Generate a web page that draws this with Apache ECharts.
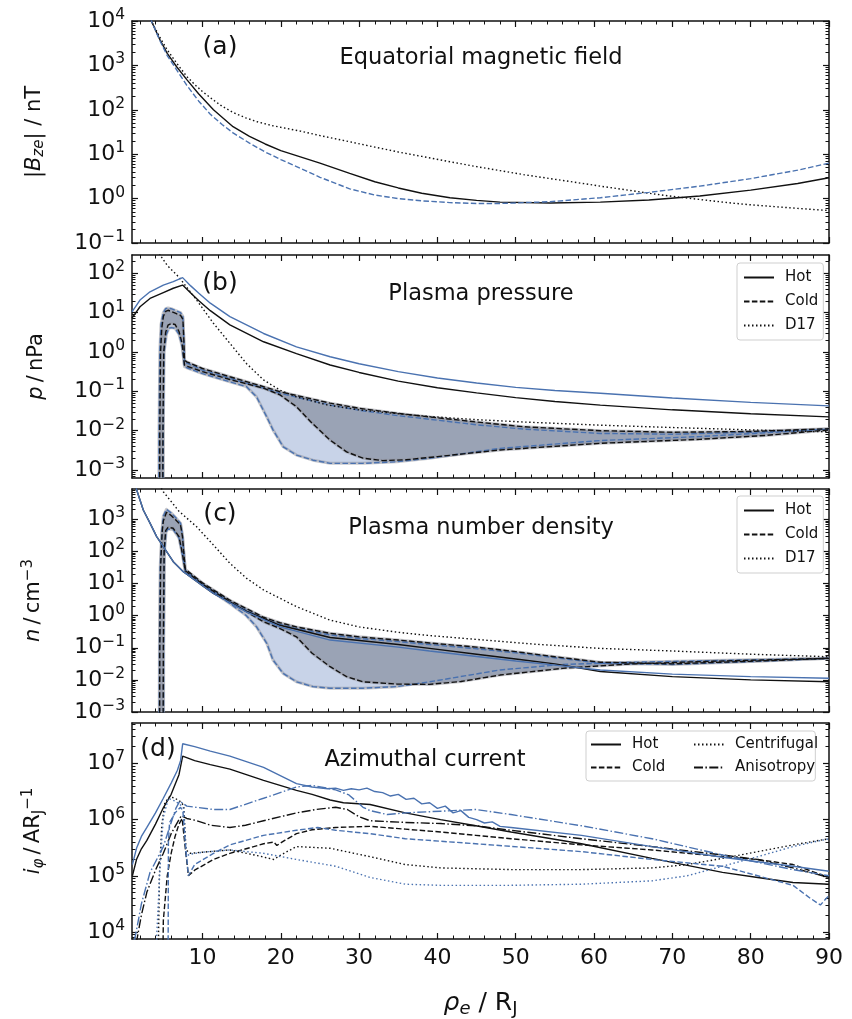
<!DOCTYPE html>
<html>
<head>
<meta charset="utf-8">
<script src="https://cdn.jsdelivr.net/npm/echarts@6/dist/echarts.min.js"></script>
<style>
  html, body { margin: 0; padding: 0; background: #ffffff; }
  #chart { width: 852px; height: 1019px; }
</style>
</head>
<body>
<div id="chart"></div>
<script>
// Radial profiles against rho_e (R_J). Every profile is stored as
// [rho_e, log10(value)] pairs and converted to linear values for the log axes.

// ---------- (a) equatorial magnetic field |B_ze| (nT) ----------
const bzHot = [[1,5.6],[2,4.75],[3,4.27],[3.55,3.97],[4.5,3.6],[5.5,3.27],[6.7,2.97],[8,2.68],[9.5,2.36],[11.4,2.0],[13.9,1.62],[16,1.4],[18,1.23],[20,1.08],[22.5,0.94],[25,0.8],[28.8,0.57],[32,0.38],[35,0.24],[38,0.12],[41.6,0.02],[45,-0.04],[48,-0.08],[54.4,-0.1],[60.8,-0.08],[67,-0.03],[73.5,0.06],[80,0.19],[86,0.34],[90,0.47]];
const bzCold = [[1,5.6],[2,4.75],[3,4.27],[3.55,3.97],[4.5,3.58],[5.5,3.22],[6.7,2.9],[8,2.55],[9.5,2.2],[11,1.9],[12.5,1.67],[13.9,1.48],[16,1.25],[18,1.05],[20,0.88],[22.5,0.68],[25,0.48],[28.8,0.22],[32,0.08],[35,0.0],[38,-0.05],[41.6,-0.09],[45,-0.11],[48,-0.11],[54.4,-0.07],[60.8,0.02],[67,0.14],[73.5,0.28],[80,0.45],[86,0.64],[90,0.8]];
const bzD17 = [[1,5.6],[2,4.75],[3,4.27],[3.55,3.97],[4.5,3.65],[5.5,3.35],[6.7,3.05],[8,2.75],[9,2.57],[10,2.41],[11.4,2.22],[12.5,2.08],[13.9,1.94],[15.5,1.82],[17,1.73],[19,1.64],[22.5,1.52],[25,1.42],[28.8,1.28],[32,1.16],[35,1.05],[38,0.95],[41.6,0.83],[45,0.72],[48,0.63],[51,0.54],[54.4,0.45],[57.5,0.37],[60.8,0.28],[64,0.2],[67,0.12],[70,0.05],[73.5,-0.02],[77,-0.09],[80,-0.14],[83,-0.18],[86,-0.22],[90,-0.27]];

// ---------- (b) plasma pressure p (nPa) ----------
const pHotBlack = [[1,0.86],[2.02,1.15],[3.3,1.36],[5,1.51],[6.27,1.62],[7.46,1.70],[8.5,1.50],[9.5,1.31],[11,1.05],[13.5,0.69],[17.8,0.26],[22,-0.04],[26.3,-0.33],[30,-0.52],[35,-0.74],[40,-0.91],[45,-1.04],[50,-1.16],[55,-1.26],[60.8,-1.35],[70,-1.47],[80,-1.57],[90,-1.65]];
const pHotBlue = [[1,1.02],[2.02,1.32],[3.3,1.53],[5,1.70],[6.27,1.79],[7.46,1.89],[8.5,1.68],[9.5,1.50],[11,1.24],[13.5,0.90],[17.8,0.47],[22,0.13],[26.3,-0.12],[30,-0.30],[35,-0.50],[40,-0.66],[45,-0.79],[50,-0.90],[55,-0.98],[60.8,-1.05],[70,-1.17],[80,-1.28],[90,-1.37]];
const pD17 = [[4.2,2.7],[4.6,2.46],[5.5,2.2],[7,1.9],[9.25,1.32],[11.4,0.73],[13.5,0.22],[15.6,-0.29],[17.8,-0.71],[19.9,-0.97],[22,-1.14],[26,-1.35],[30,-1.47],[35,-1.57],[39,-1.64],[45,-1.72],[51,-1.78],[60.8,-1.86],[70,-1.92],[80,-1.98],[90,-2.03]];
const pColdUpperBlack = [[4.5,-6],[4.55,-2],[4.65,0],[4.8,0.6],[5.0,0.9],[5.3,1.03],[5.6,1.06],[6.0,1.03],[6.6,0.98],[7.2,0.93],[7.5,0.83],[7.62,0.3],[7.7,-0.21],[8,-0.25],[10,-0.42],[13.5,-0.63],[17.8,-0.88],[19.9,-1.01],[26.3,-1.30],[30,-1.43],[35,-1.56],[39,-1.65],[45,-1.78],[51,-1.9],[60.8,-2.0],[70,-2.04],[80,-2.02],[90,-1.95]];
const pColdUpperBlue = [[4.4,-6],[4.45,-2],[4.55,0],[4.7,0.7],[5.0,1.0],[5.3,1.1],[5.6,1.12],[6.0,1.1],[6.6,1.05],[7.2,1.0],[7.5,0.9],[7.62,0.3],[7.7,-0.25],[8,-0.28],[10,-0.46],[13.5,-0.67],[17.8,-0.92],[19.9,-1.05],[26.3,-1.35],[30,-1.48],[35,-1.62],[39,-1.71],[45,-1.85],[51,-1.96],[60.8,-2.07],[70,-2.09],[80,-2.04],[90,-1.96]];
const pColdLowerBlack = [[4.9,-6],[4.95,-2],[5.05,0],[5.3,0.5],[5.6,0.68],[6.0,0.72],[6.5,0.7],[7.0,0.52],[7.4,0.22],[7.7,-0.33],[8,-0.36],[10,-0.5],[13.5,-0.70],[17.8,-0.92],[19.9,-1.09],[22,-1.39],[24,-1.81],[26.3,-2.24],[28.4,-2.54],[30.5,-2.70],[33,-2.76],[36,-2.74],[40,-2.66],[48,-2.49],[60.8,-2.32],[73.5,-2.22],[82,-2.12],[90,-1.98]];
const pColdLowerBlue = [[4.95,-6],[5.0,-2],[5.1,0],[5.4,0.45],[5.7,0.6],[6.0,0.62],[6.5,0.6],[7.0,0.45],[7.4,0.15],[7.7,-0.37],[8,-0.40],[10,-0.55],[13.5,-0.76],[15.6,-0.88],[16.9,-1.14],[18.2,-1.65],[19.0,-1.98],[20.3,-2.41],[22,-2.62],[24.1,-2.75],[26.3,-2.83],[30.5,-2.83],[34.8,-2.79],[39,-2.70],[48,-2.45],[60.8,-2.25],[73.5,-2.15],[90,-1.96]];

// ---------- (c) plasma number density n (cm^-3) ----------
const nHotBlack = [[1,4.6],[1.6,3.91],[2.44,3.29],[3.3,2.88],[4.15,2.46],[5,2.15],[6.27,1.68],[7.55,1.37],[11.4,0.69],[15.6,0.14],[19.9,-0.30],[26.3,-0.68],[35,-0.90],[39,-1.02],[45,-1.2],[50,-1.35],[55,-1.5],[60.8,-1.74],[70,-1.9],[80,-2.0],[90,-2.06]];
const nHotBlue = [[1,4.6],[1.6,3.91],[2.44,3.29],[3.3,2.88],[4.15,2.46],[5,2.15],[6.27,1.68],[7.55,1.37],[11.4,0.69],[15.6,0.12],[19.9,-0.35],[26.3,-0.76],[35,-0.98],[39,-1.1],[45,-1.27],[50,-1.41],[55,-1.54],[60.8,-1.69],[70,-1.82],[80,-1.9],[90,-1.95]];
const nD17 = [[4,4.3],[5,3.86],[7,3.25],[9.25,2.77],[11.4,2.2],[13.5,1.63],[15.6,1.17],[17.8,0.80],[22,0.28],[26.3,-0.14],[30,-0.35],[35,-0.52],[39,-0.62],[45,-0.74],[52,-0.88],[60.8,-1.02],[70,-1.1],[80,-1.2],[90,-1.28]];
const nColdUpperBlack = [[4.5,-6],[4.55,-1],[4.65,1.5],[4.85,2.6],[5.0,2.95],[5.4,3.22],[6.0,3.12],[6.6,2.98],[7.2,2.82],[7.45,2.45],[7.6,2.0],[7.8,1.45],[8,1.40],[10,1.02],[13.5,0.48],[17.8,-0.05],[19.9,-0.22],[22,-0.35],[26.3,-0.55],[30,-0.66],[35,-0.76],[39,-0.85],[45,-0.98],[50,-1.12],[55,-1.28],[60.8,-1.45],[70,-1.50],[80,-1.42],[90,-1.33]];
const nColdUpperBlue = [[4.45,-6],[4.5,-1],[4.6,1.5],[4.8,2.6],[5.0,3.1],[5.4,3.31],[6.0,3.2],[6.6,3.05],[7.2,2.88],[7.45,2.5],[7.6,2.0],[7.8,1.42],[8,1.37],[10,0.98],[13.5,0.44],[17.8,-0.1],[19.9,-0.27],[22,-0.4],[26.3,-0.6],[30,-0.71],[35,-0.81],[39,-0.9],[45,-1.03],[50,-1.16],[55,-1.31],[60.8,-1.48],[70,-1.52],[80,-1.43],[90,-1.33]];
const nColdLowerBlack = [[4.95,-6],[5.0,-1],[5.1,2.0],[5.3,2.65],[5.6,2.75],[6.27,2.72],[7.0,2.46],[7.4,1.98],[7.8,1.40],[8,1.36],[10,0.98],[13.5,0.43],[17.8,-0.19],[19.9,-0.40],[22,-0.66],[24,-1.17],[26.3,-1.59],[28.4,-1.90],[30.5,-2.06],[34.8,-2.13],[39,-2.14],[43,-2.05],[48,-1.85],[56,-1.64],[65,-1.50],[75,-1.42],[90,-1.33]];
const nColdLowerBlue = [[5.0,-6],[5.05,-1],[5.15,2.0],[5.35,2.6],[5.6,2.7],[6.27,2.68],[7.0,2.42],[7.4,1.95],[7.8,1.38],[8,1.33],[10,0.95],[13.5,0.38],[15.6,0.0],[16.9,-0.35],[18.2,-0.86],[19.0,-1.38],[20.3,-1.80],[22,-2.06],[24.1,-2.21],[26.3,-2.26],[30.5,-2.26],[34.8,-2.21],[39,-2.06],[48,-1.69],[56,-1.52],[65,-1.45],[75,-1.40],[90,-1.33]];

// ---------- (d) azimuthal current i_phi (A R_J^-1) ----------
const iHotBlack = [[1.05,5.0],[1.6,5.3],[2.2,5.48],[2.9,5.63],[4,5.92],[5,6.21],[6,6.45],[7,6.8],[7.47,7.13],[9,7.05],[11,6.98],[13.5,6.90],[17.8,6.70],[22,6.52],[24,6.45],[26.3,6.35],[28,6.30],[31.4,6.27],[35.9,6.12],[40.4,6.0],[44.9,5.89],[49.4,5.78],[58.4,5.57],[67.4,5.31],[76.4,5.06],[80.9,4.97],[85.4,4.88],[90,4.85]];
const iHotBlue = [[1.05,5.2],[1.6,5.5],[2.2,5.7],[2.9,5.86],[4,6.12],[5,6.38],[6,6.65],[6.8,6.88],[7.2,7.05],[7.47,7.35],[9,7.30],[11,7.22],[13.5,7.13],[17.8,6.93],[22,6.64],[24,6.58],[26,6.55],[27,6.56],[28,6.52],[29,6.55],[30,6.53],[31,6.56],[32,6.50],[33,6.48],[34,6.42],[35,6.45],[36,6.36],[37,6.38],[38,6.28],[39,6.30],[40,6.20],[41,6.24],[42,6.12],[43,6.16],[44,6.04],[45,6.0],[46,5.94],[47,5.96],[48,5.88],[49.4,5.86],[58.4,5.72],[67.4,5.52],[76.4,5.33],[85.4,5.17],[90,5.08]];
const iColdBlack = [[4.9,3.0],[5.0,4.2],[5.5,5.0],[6,5.4],[6.5,5.7],[7,5.92],[7.4,6.02],[7.8,5.5],[8.2,5.0],[9,5.1],[11.4,5.29],[13.5,5.40],[17.8,5.57],[19.1,5.60],[19.5,5.54],[20.5,5.63],[22,5.75],[24,5.82],[27,5.86],[31.4,5.88],[35.9,5.83],[40.4,5.78],[44.9,5.72],[49.4,5.66],[58.4,5.55],[67.4,5.46],[76.4,5.34],[80.9,5.29],[85.4,5.20],[90,4.97]];
const iColdBlue = [[5.6,3.0],[5.65,5.6],[5.8,5.95],[6.5,6.12],[7.2,6.22],[7.5,6.15],[7.8,5.6],[8.2,5.0],[9,5.2],[11.4,5.40],[13.5,5.55],[17.8,5.72],[22,5.81],[24.7,5.86],[27,5.81],[31.4,5.75],[35.9,5.66],[44.9,5.57],[58.4,5.43],[67.4,5.29],[76.4,5.17],[80.9,5.0],[85.4,4.83],[87.6,4.60],[88.9,4.48],[90,4.65]];
const iCentBlack = [[4.3,3.0],[4.5,5.0],[4.8,5.9],[5.2,6.3],[5.8,6.41],[6.5,6.38],[7.2,6.32],[7.6,6.25],[7.9,5.46],[8.4,5.40],[10,5.42],[13.5,5.46],[17,5.36],[19.1,5.29],[20,5.37],[22,5.52],[26.3,5.49],[31.4,5.34],[35.9,5.20],[40.4,5.14],[49.4,5.11],[58.4,5.11],[67.4,5.14],[71.9,5.20],[76.4,5.31],[80.9,5.43],[85.4,5.55],[90,5.66]];
const iCentBlue = [[4.1,3.0],[4.15,3.9],[4.58,5.17],[5,6.04],[5.64,6.38],[6.5,6.33],[7.13,6.27],[7.6,6.2],[7.9,5.34],[8.3,5.38],[10,5.42],[13.5,5.46],[17.8,5.40],[22,5.29],[27,5.17],[31.4,4.97],[35.9,4.85],[40.4,4.83],[49.4,4.83],[58.4,4.85],[67.4,4.91],[71.9,5.0],[76.4,5.17],[80.9,5.34],[85.4,5.52],[90,5.66]];
const iAnisoBlack = [[1.5,3.8],[1.6,3.84],[2.2,4.3],[2.9,4.71],[4,5.1],[5,5.4],[6,5.75],[7,6.0],[7.3,6.07],[8,6.02],[9.3,5.98],[11,5.9],[13.5,5.86],[15.5,5.9],[17.8,5.98],[22,6.12],[24.5,6.18],[27,6.22],[28.5,6.18],[30,6.05],[31.4,5.98],[35.9,5.95],[40.4,5.93],[44.9,5.89],[49.4,5.81],[58.4,5.66],[67.4,5.52],[76.4,5.37],[80.9,5.29],[85.4,5.14],[90,4.97]];
const iAnisoBlue = [[1.3,3.85],[1.56,4.02],[2.2,4.5],[3.3,5.06],[5,5.52],[6,5.95],[6.6,6.2],[7.1,6.33],[8,6.24],[11.4,6.18],[13.5,6.18],[17.8,6.38],[22,6.58],[24,6.61],[26.3,6.55],[27,6.53],[28.7,6.44],[30.5,6.22],[31.4,6.16],[33.6,6.09],[35.9,6.12],[40.4,6.15],[44.9,6.18],[49.4,6.09],[58.4,5.89],[67.4,5.66],[76.4,5.37],[85.4,5.11],[90,5.0]];

// ---------- axis ticks ----------
const X_MAJOR = [10, 20, 30, 40, 50, 60, 70, 80, 90];
const X_MINOR = [];
for (let v = 2; v < 90; v += 2) if (v % 10 !== 0) X_MINOR.push(v);

function powersOfTen(lo, hi) { const a = []; for (let e = lo; e <= hi; e++) a.push(Math.pow(10, e)); return a; }
function logMinors(lo, hi) { const a = []; for (let e = lo; e <= hi; e++) for (let k = 2; k <= 9; k++) a.push(+(k * Math.pow(10, e)).toPrecision(3)); return a; }

// ---------- styling ----------
const FONT = 'DejaVu Sans';
const INK = '#111111';
const BLUE = '#4a72b0';
const DASH = [5.5, 2.4];
const DOT = [1.5, 2.5];
const DASHDOT = [9, 2.4, 1.5, 2.4];
const FILL_LIGHT = '#c8d3e8';
const FILL_DARK = '#9aa3b5';
const TICK_FS = 22;
const THIN = '\u2009';

const panels = [
  { top: 21,  height: 222, yMin: 0.1,     yMax: 1e4,    eLo: -1, eHi: 4,
    name: '|{i|B}{sub|ze}| / nT', title: 'Equatorial magnetic field', tag: '(a)', tagX: 220, tagY: 47, titleX: 481, titleY: 58 },
  { top: 255, height: 223, yMin: 6.27e-4, yMax: 291.7,  eLo: -3, eHi: 2,
    name: '{i|p}' + THIN + '/' + THIN + 'nPa', title: 'Plasma pressure', tag: '(b)', tagX: 220, tagY: 283, titleX: 481, titleY: 294 },
  { top: 489, height: 223, yMin: 1e-3,    yMax: 8790,   eLo: -3, eHi: 3,
    name: '{i|n}' + THIN + '/' + THIN + 'cm{sup|\u22123}', title: 'Plasma number density', tag: '(c)', tagX: 220, tagY: 514, titleX: 481, titleY: 528 },
  { top: 723, height: 222, yMin: 7490,    yMax: 5.25e7, eLo: 4,  eHi: 7,
    name: '{i|i}{sub|\u03c6}' + THIN + '/' + THIN + 'AR{subr|J}{sup|\u22121}', title: 'Azimuthal current', tag: '(d)', tagX: 158, tagY: 749, titleX: 425, titleY: 760 }
];

const nameRich = {
  i:    { fontFamily: FONT, fontSize: 21, fontStyle: 'italic', color: INK },
  sub:  { fontFamily: FONT, fontSize: 15, fontStyle: 'italic', color: INK, padding: [10, 0, 0, 0] },
  subr: { fontFamily: FONT, fontSize: 15, color: INK, padding: [10, 0, 0, 0] },
  sup:  { fontFamily: FONT, fontSize: 15, color: INK, padding: [0, 0, 11, 0] }
};
const tickRich = {
  b:   { fontFamily: FONT, fontSize: TICK_FS, color: INK },
  sup: { fontFamily: FONT, fontSize: 15.5, color: INK, padding: [0, 0, 12, 0] }
};
function powLabel(v) {
  const e = Math.round(Math.log10(v));
  return '{b|10}{sup|' + (e < 0 ? '\u2212' + (-e) : String(e)) + '}';
}

const grids = [], xAxes = [], yAxes = [];
const frameLine = { show: true, onZero: false, lineStyle: { color: INK, width: 1.5 } };
const noLine = { show: false, onZero: false };
const majorTick = (vals) => ({ show: true, inside: true, length: 6, customValues: vals, lineStyle: { color: INK, width: 1.2 } });
const minorTick = (vals) => ({ show: true, inside: true, length: 3.5, customValues: vals, lineStyle: { color: INK, width: 1 } });

panels.forEach((p, i) => {
  const last = i === panels.length - 1;
  grids.push({ left: 132, right: 23, top: p.top, height: p.height });
  const xb = { type: 'value', gridIndex: i, min: 1, max: 90, splitLine: { show: false } };
  xAxes.push(Object.assign({}, xb, {
    position: 'bottom', axisLine: frameLine, axisTick: majorTick(X_MAJOR),
    axisLabel: { show: last, customValues: X_MAJOR, fontFamily: FONT, fontSize: TICK_FS, color: INK, margin: 8 },
    name: last ? '{i|\u03c1}{sub|e} / R{subr|J}' : '', nameLocation: 'middle', nameGap: 50,
    nameTextStyle: { fontFamily: FONT, fontSize: 25, color: INK, rich: {
      i: { fontFamily: FONT, fontSize: 25, fontStyle: 'italic', color: INK },
      sub: { fontFamily: FONT, fontSize: 18, fontStyle: 'italic', color: INK, padding: [11, 0, 0, 0] },
      subr: { fontFamily: FONT, fontSize: 18, color: INK, padding: [11, 0, 0, 0] } } }
  }));
  xAxes.push(Object.assign({}, xb, { position: 'top', axisLine: frameLine, axisTick: majorTick(X_MAJOR), axisLabel: { show: false } }));
  xAxes.push(Object.assign({}, xb, { position: 'top', axisLine: noLine, axisTick: minorTick(X_MINOR), axisLabel: { show: false } }));
  xAxes.push(Object.assign({}, xb, { position: 'bottom', axisLine: noLine, axisTick: minorTick(X_MINOR), axisLabel: { show: false } }));

  const major = powersOfTen(p.eLo, p.eHi);
  const minor = logMinors(p.eLo - 1, p.eHi);
  const yb = { type: 'log', logBase: 10, gridIndex: i, min: p.yMin, max: p.yMax, splitLine: { show: false } };
  yAxes.push(Object.assign({}, yb, {
    position: 'left', axisLine: frameLine, axisTick: majorTick(major),
    axisLabel: { customValues: major, formatter: powLabel, rich: tickRich, margin: 7 },
    name: p.name, nameLocation: 'middle', nameRotate: 90, nameGap: 85,
    nameTextStyle: { fontFamily: FONT, fontSize: 21, color: INK, rich: nameRich }
  }));
  yAxes.push(Object.assign({}, yb, { position: 'right', axisLine: frameLine, axisTick: majorTick(major), axisLabel: { show: false } }));
  yAxes.push(Object.assign({}, yb, { position: 'left', axisLine: noLine, axisTick: minorTick(minor), axisLabel: { show: false } }));
  yAxes.push(Object.assign({}, yb, { position: 'right', axisLine: noLine, axisTick: minorTick(minor), axisLabel: { show: false } }));
});

const toLinear = (pts) => pts.map(([x, e]) => [x, Math.pow(10, e)]);

function curve(name, panel, pts, color, dash, z) {
  return {
    name, type: 'line', xAxisIndex: 4 * panel, yAxisIndex: 4 * panel,
    data: toLinear(pts), showSymbol: false, symbol: 'none', clip: true, silent: true,
    lineStyle: { color, width: 1.4, type: dash }, itemStyle: { color }, z: z || 4
  };
}

// filled envelope between two profiles, drawn through the panel's own axes
function band(panel, upper, lower, fill, z) {
  return {
    type: 'custom', coordinateSystem: 'cartesian2d', xAxisIndex: 4 * panel, yAxisIndex: 4 * panel,
    silent: true, z, data: [[upper[upper.length - 1][0], Math.pow(10, upper[upper.length - 1][1])]],
    renderItem(params, api) {
      const top = toLinear(upper).map(p => api.coord(p));
      const bottom = toLinear(lower).reverse().map(p => api.coord(p));
      const cs = params.coordSys;
      return {
        type: 'polygon', shape: { points: top.concat(bottom) },
        style: { fill, stroke: 'rgba(150,152,160,0.55)', lineWidth: 3, lineJoin: 'round' },
        clipPath: { type: 'rect', shape: { x: cs.x, y: cs.y, width: cs.width, height: cs.height } }
      };
    }
  };
}

const series = [
  // black profiles first, so the legends take their keys from them
  curve('Hot', 1, pHotBlack, INK, 'solid'),
  curve('Cold', 1, pColdUpperBlack, INK, DASH, 3),
  curve('Cold', 1, pColdLowerBlack, INK, DASH, 3),
  curve('D17', 1, pD17, INK, DOT),
  curve('Centrifugal', 3, iCentBlack, INK, DOT),
  curve('Anisotropy', 3, iAnisoBlack, INK, DASHDOT),
  curve('Hot', 3, iHotBlack, INK, 'solid'),
  curve('Cold', 3, iColdBlack, INK, DASH),
  curve('Hot', 0, bzHot, INK, 'solid'),
  curve('D17', 0, bzD17, INK, DOT),
  curve('Hot', 2, nHotBlack, INK, 'solid'),
  curve('Cold', 2, nColdUpperBlack, INK, DASH, 3),
  curve('Cold', 2, nColdLowerBlack, INK, DASH, 3),
  curve('D17', 2, nD17, INK, DOT),
  // blue profiles
  curve('Cold', 0, bzCold, BLUE, DASH),
  curve('Hot', 1, pHotBlue, BLUE, 'solid'),
  curve('Cold', 1, pColdUpperBlue, BLUE, DASH, 2),
  curve('Cold', 1, pColdLowerBlue, BLUE, DASH, 2),
  curve('Hot', 2, nHotBlue, BLUE, 'solid'),
  curve('Cold', 2, nColdUpperBlue, BLUE, DASH, 2),
  curve('Cold', 2, nColdLowerBlue, BLUE, DASH, 2),
  curve('Hot', 3, iHotBlue, BLUE, 'solid'),
  curve('Cold', 3, iColdBlue, BLUE, DASH),
  curve('Centrifugal', 3, iCentBlue, BLUE, DOT),
  curve('Anisotropy', 3, iAnisoBlue, BLUE, DASHDOT),
  // envelopes: light (blue model) underneath, dark (black model) above
  band(1, pColdUpperBlue, pColdLowerBlue, FILL_LIGHT, 1),
  band(1, pColdUpperBlack, pColdLowerBlack, FILL_DARK, 1.5),
  band(2, nColdUpperBlue, nColdLowerBlue, FILL_LIGHT, 1),
  band(2, nColdUpperBlack, nColdLowerBlack, FILL_DARK, 1.5)
];

const legendBase = {
  orient: 'vertical', itemWidth: 30, itemHeight: 12, itemGap: 9, selectedMode: false,
  itemStyle: { opacity: 0 },
  textStyle: { fontFamily: FONT, fontSize: 15, color: INK, padding: [0, 0, 0, 6] },
  borderColor: '#cfcfcf', borderWidth: 1, borderRadius: 3, padding: [7, 5, 7, 6],
  backgroundColor: 'rgba(255,255,255,0.85)'
};
const legend = [
  Object.assign({}, legendBase, { data: ['Hot', 'Cold', 'D17'], left: 737, top: 263 }),
  Object.assign({}, legendBase, { data: ['Hot', 'Cold', 'D17'], left: 737, top: 496 }),
  Object.assign({}, legendBase, { data: ['Hot', 'Cold'], left: 586, top: 731, itemGap: 8, padding: [6, 150, 6, 4] }),
  Object.assign({}, legendBase, { data: ['Centrifugal', 'Anisotropy'], left: 693, top: 737, itemGap: 8, padding: 0,
    borderWidth: 0, backgroundColor: 'transparent', z: 6 })
];

const graphic = [];
panels.forEach(p => {
  graphic.push({ type: 'text', x: p.tagX, y: p.tagY, z: 10,
    style: { text: p.tag, fontFamily: FONT, fontSize: 25, fill: INK, align: 'center', verticalAlign: 'middle' } });
  graphic.push({ type: 'text', x: p.titleX, y: p.titleY, z: 10,
    style: { text: p.title, fontFamily: FONT, fontSize: 22.5, fill: INK, align: 'center', verticalAlign: 'middle' } });
});

const chart = echarts.init(document.getElementById('chart'), null, { renderer: 'canvas' });
chart.setOption({
  animation: false,
  backgroundColor: '#ffffff',
  grid: grids, xAxis: xAxes, yAxis: yAxes,
  legend, graphic, series
});
</script>
</body>
</html>
